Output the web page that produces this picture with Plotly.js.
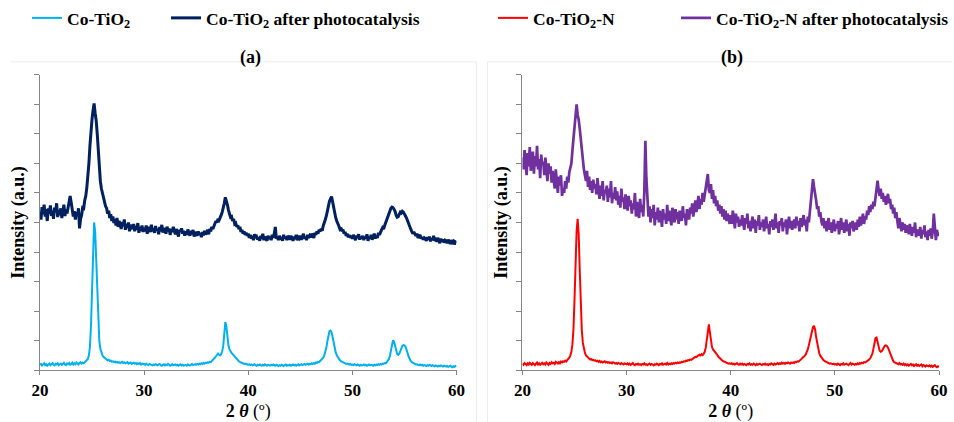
<!DOCTYPE html>
<html><head><meta charset="utf-8">
<script src="https://cdn.plot.ly/plotly-3.0.1.min.js"></script>
<style>html,body{margin:0;padding:0;background:#fff}</style>
</head><body><div id="chart" style="width:954px;height:422px"></div>
<script>
// 2θ scan grid: 20.0° to 60.0° in 0.1° steps
const thetaStart = 20, thetaStep = 0.1;

// Co-TiO2 (counts, arbitrary units), one row per degree
const coTiO2 = [
18,21,16,19,23,17,20,15,19,22,
17,20,24,18,16,21,19,23,17,20,
22,18,21,25,19,17,22,20,24,18,
21,25,19,23,20,26,22,19,24,27,
22,25,23,27,29,33,38,50,80,150,
270,420,500,470,370,245,150,98,72,58,
50,45,41,38,36,33,35,31,32,29,
30,27,29,26,28,25,27,24,26,28,
24,26,23,25,27,22,24,26,21,23,
25,22,24,20,23,21,24,19,22,20,
21,18,22,19,17,21,20,18,16,19,
17,20,18,16,19,21,17,15,18,20,
16,19,17,21,18,15,17,20,16,18,
19,16,18,15,17,20,16,18,15,17,
18,15,19,17,16,18,21,17,19,20,
18,21,19,22,20,23,21,24,22,25,
24,26,25,28,27,30,33,37,42,47,
52,56,52,50,54,64,82,125,163,148,
110,84,70,62,58,54,50,45,40,36,
33,30,28,26,24,23,21,22,20,19,
18,20,17,19,16,18,20,17,15,18,
16,19,17,15,18,16,20,17,15,18,
17,15,18,16,19,17,15,18,16,14,
17,15,18,16,14,17,19,15,17,16,
18,15,17,19,16,18,15,17,20,16,
18,20,17,19,21,18,20,22,19,21,
20,23,21,24,22,26,24,28,27,31,
34,37,42,50,60,76,98,120,132,134,
128,112,92,74,60,50,43,37,33,30,
28,26,24,23,21,22,20,19,21,18,
19,17,20,18,16,19,17,15,18,16,
17,19,16,18,15,17,19,16,18,17,
15,18,16,19,17,20,18,21,19,22,
21,24,23,27,31,37,48,66,88,101,
96,84,66,55,52,56,64,74,82,85,
84,80,71,58,46,37,31,27,24,22,
21,19,20,18,17,19,16,18,15,17,
16,14,17,15,18,16,14,17,15,13,
16,14,12,15,13,16,14,12,15,13,
12,14,11,13,15,12,10,13,11,14,
12];

// Co-TiO2 after photocatalysis
const coTiO2After = [
535,510,552,528,560,520,545,505,548,530,
558,522,540,512,550,535,565,518,542,525,
548,515,538,560,522,545,530,555,572,590,
568,545,520,538,510,535,522,548,480,512,
525,550,548,575,590,618,650,700,760,820,
850,880,903,870,845,800,735,680,640,615,
598,580,572,555,548,530,540,515,528,505,
520,498,512,490,515,485,505,495,478,502,
488,510,475,495,482,500,470,492,485,478,
495,470,488,476,498,465,485,472,490,468,
482,470,490,462,485,475,468,492,470,480,
465,488,472,478,460,485,470,492,466,480,
475,462,486,470,480,458,478,468,485,472,
460,478,468,452,475,470,480,462,472,455,
470,458,476,465,455,472,460,475,452,468,
462,455,470,458,465,450,468,456,472,460,
465,475,460,478,470,485,478,490,498,505,
500,512,508,520,525,535,548,565,585,575,
560,542,530,518,520,505,512,495,498,485,
490,478,485,468,475,462,470,458,465,455,
462,448,458,445,455,440,460,448,452,442,
450,438,455,445,462,440,452,446,438,455,
445,452,440,458,448,462,485,445,452,440,
455,442,450,438,458,446,452,440,455,448,
442,455,446,438,452,444,458,440,450,446,
455,442,450,462,445,452,440,458,448,455,
450,462,455,448,465,458,470,462,475,470,
478,472,488,496,510,522,540,555,572,580,
588,570,548,528,516,505,498,488,478,482,
470,476,462,468,455,462,450,458,448,455,
445,458,450,440,455,448,460,442,452,446,
455,440,452,446,460,438,450,445,458,442,
450,462,446,455,448,465,458,470,475,482,
478,490,500,508,520,530,540,548,552,550,
545,538,525,518,520,528,535,532,538,535,
530,522,515,505,492,485,478,470,462,468,
460,455,462,448,452,458,445,450,442,448,
445,438,450,442,452,436,446,440,455,438,
442,435,448,438,430,445,436,442,432,440,
438,430,442,435,428,440,432,436,426,434,
432];

// Co-TiO2-N
const coTiO2N = [
22,18,24,20,17,23,19,25,21,18,
24,20,17,22,26,19,23,18,21,25,
20,23,19,26,22,18,24,21,27,23,
25,21,28,24,22,27,23,29,26,30,
28,32,29,34,38,42,50,62,88,140,
240,370,470,512,460,340,215,135,92,70,
58,50,45,42,39,36,38,34,35,32,
33,30,32,28,31,27,29,26,28,30,
26,28,25,27,24,26,23,27,25,22,
24,21,25,23,20,24,22,19,23,21,
20,23,19,22,18,21,24,19,17,21,
19,22,18,20,17,21,19,23,18,20,
17,20,22,18,21,19,16,20,18,22,
20,17,21,19,23,18,20,22,19,24,
19,22,20,23,21,24,22,25,23,26,
24,26,25,28,27,30,29,32,31,34,
33,36,35,38,40,42,45,44,48,50,
52,50,54,51,55,62,76,100,140,155,
128,95,78,70,66,62,58,52,46,42,
38,35,32,30,28,27,25,24,22,23,
21,23,20,22,19,21,24,20,18,22,
19,22,18,21,20,17,21,19,23,18,
20,18,22,19,17,21,18,20,22,19,
17,21,19,22,18,20,17,21,19,23,
20,18,22,19,21,24,20,23,21,25,
22,24,21,25,23,26,24,22,26,24,
26,24,28,27,30,29,32,34,38,42,
44,48,53,60,70,84,100,118,135,146,
150,138,112,88,70,57,49,43,38,34,
31,29,27,25,24,22,23,21,20,22,
19,21,18,22,20,17,21,19,23,18,
20,22,19,17,21,24,19,22,20,18,
21,19,23,20,24,22,25,23,27,26,
28,30,33,36,40,46,56,72,92,108,
110,96,78,66,62,64,70,78,83,84,
82,76,66,54,44,36,31,27,25,23,
22,20,24,19,21,18,22,17,20,16,
19,15,18,21,16,19,14,17,20,15,
18,14,16,19,13,17,15,12,16,14,
13,16,12,15,11,14,17,12,10,13,
11];

// Co-TiO2-N after photocatalysis
const coTiO2NAfter = [
720,680,745,700,660,735,690,755,675,710,
740,665,725,690,760,680,715,650,730,695,
705,660,720,680,640,700,665,690,635,675,
650,615,680,640,600,655,625,660,590,615,
600,640,615,655,635,670,690,700,745,790,
835,870,900,865,848,818,780,745,705,680,
660,640,675,620,655,610,640,600,645,615,
630,595,650,605,580,625,590,640,575,610,
600,625,570,615,585,640,565,600,580,620,
575,605,560,590,550,615,570,585,545,595,
560,540,590,555,575,530,565,545,600,520,
570,545,515,580,535,560,520,600,777,650,
575,520,555,500,545,515,560,490,535,510,
550,500,540,520,485,545,510,530,495,560,
505,540,515,490,550,520,500,545,510,535,
495,540,520,505,555,515,530,490,545,525,
510,550,530,565,520,545,575,535,560,590,
545,580,560,600,570,595,620,645,664,610,
600,630,580,610,565,590,555,575,540,560,
530,555,520,545,510,540,505,530,515,495,
525,495,540,505,480,530,500,520,485,510,
490,525,500,475,515,495,530,480,505,470,
500,520,480,510,465,505,490,525,475,500,
485,510,470,500,520,480,495,460,505,485,
510,475,495,530,480,500,465,505,490,515,
470,500,485,510,460,495,520,480,505,475,
495,510,480,520,490,505,470,515,485,500,
525,490,510,470,520,500,540,575,610,647,
620,600,575,545,555,520,535,505,490,515,
480,505,470,495,515,475,500,465,490,510,
470,495,480,505,460,490,515,475,500,465,
485,510,470,495,455,500,480,505,470,490,
500,475,510,485,520,490,505,530,495,520,
510,540,525,555,535,560,545,570,555,585,
600,642,610,590,615,580,600,570,590,560,
575,597,565,580,545,560,530,550,515,535,
505,480,515,490,470,500,475,495,465,490,
480,460,495,470,455,485,465,500,450,475,
470,455,485,445,475,460,490,450,470,440,
475,455,480,445,470,530,460,440,475,455,
465];

const xTicks = [20, 30, 40, 50, 60];
const seriesNames = ['Co-TiO<sub>2</sub>', 'Co-TiO<sub>2</sub> after photocatalysis',
                     'Co-TiO<sub>2</sub>-N', 'Co-TiO<sub>2</sub>-N after photocatalysis'];
const panelTitles = ['<b>(a)</b>', '<b>(b)</b>'];

const twoTheta = coTiO2.map((_, i) => +(thetaStart + i * thetaStep).toFixed(1));

const W = 954, H = 422;
const fx = p => p / W, fy = p => 1 - p / H;
const FONT = 'Liberation Serif, Times New Roman, serif';
const AX = '#868686';

const traces = [
  {x: twoTheta, y: coTiO2, name: seriesNames[0], xaxis: 'x', yaxis: 'y', legend: 'legend',
   showlegend: true, mode: 'lines', line: {color: '#00B0F0', width: 2}},
  {x: twoTheta, y: coTiO2After, name: seriesNames[1], xaxis: 'x', yaxis: 'y', legend: 'legend2',
   showlegend: true, mode: 'lines', line: {color: '#002060', width: 3}},
  {x: twoTheta, y: coTiO2N, name: seriesNames[2], xaxis: 'x2', yaxis: 'y2', legend: 'legend3',
   showlegend: true, mode: 'lines', line: {color: '#FF0000', width: 2}},
  {x: twoTheta, y: coTiO2NAfter, name: seriesNames[3], xaxis: 'x2', yaxis: 'y2', legend: 'legend4',
   showlegend: true, mode: 'lines', line: {color: '#7030A0', width: 2.7}}
];

function xAxis(domain, anchor) {
  return {domain, anchor, range: [20, 60], tickvals: xTicks, ticks: 'outside', ticklen: 4,
    tickcolor: AX, showline: true, linecolor: AX, linewidth: 1, showgrid: false, zeroline: false,
    tickfont: {family: FONT, size: 17, weight: 700, color: '#000'},
    title: {text: '<b>2</b> <b><i>θ</i></b> (º)', font: {family: FONT, size: 18, color: '#000'}, standoff: 6}};
}
function yAxis(domain, anchor) {
  return {domain, anchor, range: [0, 1000], dtick: 100, ticks: 'outside', ticklen: 5,
    tickcolor: AX, showline: true, linecolor: AX, linewidth: 1, showgrid: false, zeroline: false,
    showticklabels: false,
    title: {text: '<b>Intensity (a.u.)</b>', font: {family: FONT, size: 18, color: '#000'}, standoff: 4}};
}
function legendAt(px) {
  return {orientation: 'h', xanchor: 'left', yanchor: 'middle', x: fx(px), y: fy(17),
    font: {family: FONT, size: 17.5, weight: 700, color: '#000'},
    bgcolor: 'rgba(0,0,0,0)'};
}

const panelLine = {color: '#ececec', width: 1};
const layout = {
  width: W, height: H, margin: {l: 0, r: 0, t: 0, b: 0},
  paper_bgcolor: '#fff', plot_bgcolor: '#fff',
  font: {family: FONT, color: '#000'},
  showlegend: true,
  xaxis: xAxis([fx(40), fx(457)], 'y'),
  yaxis: yAxis([fy(370), fy(74)], 'x'),
  xaxis2: xAxis([fx(523), fx(940)], 'y2'),
  yaxis2: yAxis([fy(370), fy(74)], 'x2'),
  legend: legendAt(27),
  legend2: legendAt(166),
  legend3: legendAt(493),
  legend4: legendAt(677),
  annotations: [
    {text: panelTitles[0], xref: 'paper', yref: 'paper', x: fx(238), y: fy(57), yanchor: 'middle',
     showarrow: false, font: {family: FONT, size: 18, color: '#000'}},
    {text: panelTitles[1], xref: 'paper', yref: 'paper', x: fx(746), y: fy(57), yanchor: 'middle',
     showarrow: false, font: {family: FONT, size: 18, color: '#000'}}
  ],
  shapes: [
    {type: 'line', xref: 'paper', yref: 'paper', x0: fx(10), x1: fx(477), y0: fy(61), y1: fy(61), line: panelLine},
    {type: 'line', xref: 'paper', yref: 'paper', x0: fx(477), x1: fx(477), y0: fy(61), y1: 0, line: panelLine},
    {type: 'line', xref: 'paper', yref: 'paper', x0: fx(488), x1: 1, y0: fy(61), y1: fy(61), line: panelLine},
    {type: 'line', xref: 'paper', yref: 'paper', x0: fx(488), x1: fx(488), y0: fy(61), y1: 0, line: panelLine}
  ]
};

Plotly.newPlot('chart', traces, layout, {displayModeBar: false, staticPlot: true});
</script></body></html>
